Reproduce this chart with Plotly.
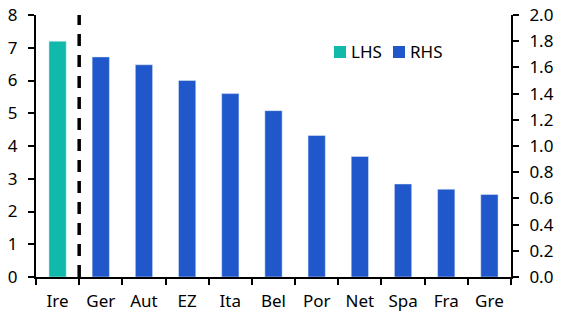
import plotly.graph_objects as go

categories = ["Ire", "Ger", "Aut", "EZ", "Ita", "Bel", "Por", "Net", "Spa", "Fra", "Gre"]
lhs_cats = ["Ire"]
lhs_vals = [7.2]
rhs_cats = ["Ger", "Aut", "EZ", "Ita", "Bel", "Por", "Net", "Spa", "Fra", "Gre"]
rhs_vals = [1.68, 1.62, 1.50, 1.40, 1.27, 1.08, 0.92, 0.71, 0.67, 0.63]
legend_names = ["LHS", "RHS"]

teal = "#10B9A9"
blue = "#2058CC"
colors = [teal, blue]
font_family = "Noto Sans"

W, H = 567, 328
ML, MR, MT, MB = 36, 56, 15, 51
PW, PH = W - ML - MR, H - MT - MB

def px_x(px):
    return (px - ML) / PW

def px_y(py):
    return (H - MB - py) / PH

fig = go.Figure()
fig.add_trace(go.Bar(x=lhs_cats, y=lhs_vals, name=legend_names[0], marker_color=teal,
                     width=0.4, yaxis="y", showlegend=False))
fig.add_trace(go.Bar(x=rhs_cats, y=rhs_vals, name=legend_names[1], marker_color=blue,
                     width=0.4, yaxis="y2", showlegend=False))

fig.add_shape(type="line", xref="x", yref="paper", x0=0.5, x1=0.5, y0=0, y1=1,
              line=dict(color="black", width=3.5, dash="12px,9px"))

# manual legend
legend_x = [334, 393]
for i, name in enumerate(legend_names):
    x0 = legend_x[i]
    fig.add_shape(type="rect", xref="paper", yref="paper",
                  x0=px_x(x0), x1=px_x(x0 + 12), y0=px_y(58), y1=px_y(46),
                  fillcolor=colors[i], line=dict(width=0))
    fig.add_annotation(xref="paper", yref="paper", x=px_x(x0 + 15), y=px_y(52),
                       text=name, showarrow=False, xanchor="left", yanchor="middle",
                       font=dict(size=17, color="black", family=font_family))

axis_common = dict(showline=True, linecolor="black", linewidth=2,
                   ticks="outside", ticklen=6, tickwidth=2, tickcolor="black",
                   showgrid=False, zeroline=False, automargin=False)

fig.update_layout(
    width=W, height=H,
    margin=dict(l=ML, r=MR, t=MT, b=MB, autoexpand=False),
    paper_bgcolor="white", plot_bgcolor="white",
    barmode="overlay",
    font=dict(family=font_family, size=17, color="black"),
    xaxis=dict(categoryorder="array", categoryarray=categories,
               tickson="boundaries", range=[-0.5, 10.5], ticklabelstandoff=8,
               **axis_common),
    yaxis=dict(range=[0, 8], dtick=1, ticklabelstandoff=7, **axis_common),
    yaxis2=dict(range=[0, 2], dtick=0.2, tickformat=".1f", overlaying="y", side="right",
                ticklabelstandoff=7, **axis_common),
)

fig.write_html("out.html")
